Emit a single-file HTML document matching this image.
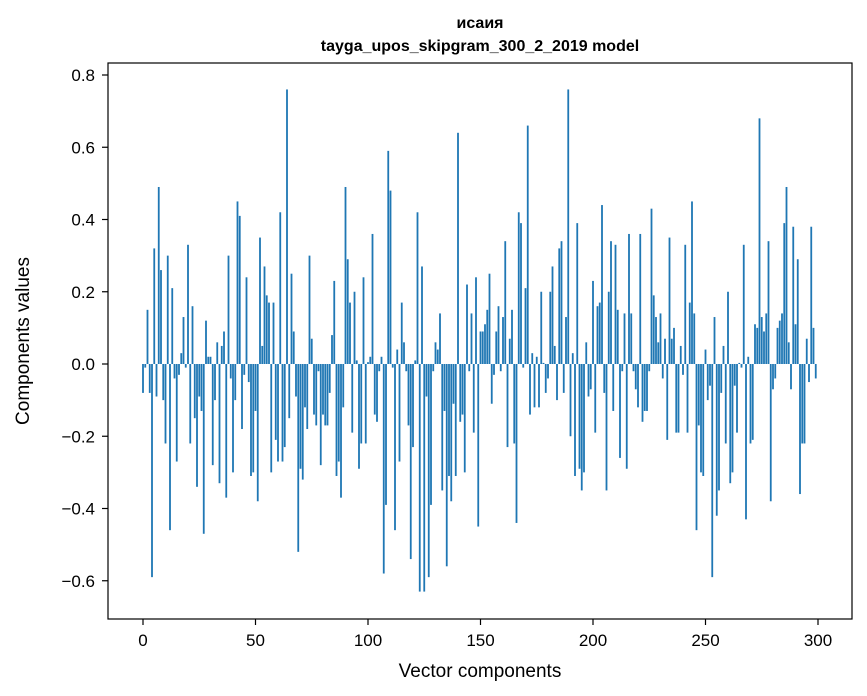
<!DOCTYPE html>
<html><head><meta charset="utf-8"><style>
html,body{margin:0;padding:0;background:#fff;}
svg{display:block;font-family:"Liberation Sans","DejaVu Sans",sans-serif;}
</style></head><body>
<svg id="chart" width="867" height="696" viewBox="0 0 867 696" xmlns="http://www.w3.org/2000/svg">
<rect x="0" y="0" width="867" height="696" fill="#fff"/>
<text x="480" y="28" text-anchor="middle" font-size="16" font-weight="bold">исаия</text>
<text x="480" y="51" text-anchor="middle" font-size="16" font-weight="bold">tayga_upos_skipgram_300_2_2019 model</text>
<g id="bars"></g>
<g id="xticks"></g>
<g id="yticks"></g>
<rect x="108" y="63" width="744" height="556" fill="none" stroke="#000" stroke-width="1.2"/>
<text x="480" y="677" text-anchor="middle" font-size="19">Vector components</text>
<text x="29" y="341" text-anchor="middle" font-size="19" transform="rotate(-90 29 341)">Components values</text>
</svg>
<script>
const values = [
-0.08,-0.01,0.15,-0.08,-0.59,0.32,-0.09,0.49,0.26,-0.10,
-0.22,0.30,-0.46,0.21,-0.04,-0.27,-0.03,0.03,0.13,-0.01,
0.33,-0.22,0.16,-0.15,-0.34,-0.09,-0.13,-0.47,0.12,0.02,
0.02,-0.28,-0.10,0.06,-0.33,0.05,0.09,-0.37,0.30,-0.04,
-0.30,-0.10,0.45,0.41,-0.18,-0.03,0.24,-0.05,-0.31,-0.30,
-0.13,-0.38,0.35,0.05,0.27,0.19,0.17,-0.30,0.17,-0.21,
-0.27,0.42,-0.27,-0.23,0.76,-0.15,0.25,0.09,-0.09,-0.52,
-0.29,-0.32,-0.12,-0.18,0.30,0.07,-0.14,-0.17,-0.02,-0.28,
-0.14,-0.17,-0.17,-0.08,0.08,0.23,-0.31,-0.27,-0.37,-0.12,
0.49,0.29,0.17,-0.19,0.20,0.01,-0.29,-0.22,0.24,-0.22,
0.005,0.02,0.36,-0.14,-0.16,-0.02,0.02,-0.58,-0.39,0.59,
0.48,-0.01,-0.46,0.04,-0.27,0.17,0.06,-0.02,-0.17,-0.54,
-0.23,0.01,0.42,-0.63,0.27,-0.63,-0.09,-0.59,-0.39,-0.02,
0.06,0.04,0.14,-0.35,-0.13,-0.56,-0.31,-0.38,-0.11,-0.31,
0.64,-0.16,-0.14,-0.30,0.22,-0.02,0.14,-0.19,0.24,-0.45,
0.09,0.09,0.11,0.15,0.25,-0.11,-0.03,0.09,0.16,-0.02,
0.13,0.34,-0.23,0.07,0.15,-0.22,-0.44,0.42,0.39,-0.01,
0.21,0.66,-0.14,0.03,-0.12,0.02,-0.12,0.20,0.003,-0.08,
-0.04,0.20,0.27,0.05,-0.10,0.32,0.34,-0.08,0.13,0.76,
-0.20,0.03,-0.31,0.39,-0.29,-0.35,-0.30,0.06,-0.09,-0.07,
0.23,-0.19,0.16,0.17,0.44,-0.08,-0.35,0.20,0.34,-0.13,
0.33,0.15,-0.26,-0.02,0.14,-0.29,0.36,0.14,-0.02,-0.07,
-0.12,0.36,-0.16,-0.13,-0.13,-0.02,0.43,0.19,0.13,0.06,
0.14,-0.04,0.07,-0.21,0.35,0.07,0.10,-0.19,-0.19,0.05,
-0.03,0.33,-0.19,0.17,0.45,0.14,-0.46,-0.17,-0.30,-0.31,
0.04,-0.10,-0.06,-0.59,0.13,-0.42,-0.35,-0.08,0.05,-0.22,
0.20,-0.33,-0.30,-0.06,-0.19,0.003,-0.01,0.33,-0.43,0.02,
-0.22,-0.21,0.11,0.10,0.68,0.13,0.09,0.14,0.34,-0.38,
-0.07,-0.04,0.10,0.12,0.14,0.39,0.49,0.06,-0.07,0.38,
0.11,0.29,-0.36,-0.22,-0.22,0.07,-0.05,0.38,0.10,-0.04
];
const xTicks = [0,50,100,150,200,250,300];
const yTicks = [-0.6,-0.4,-0.2,0.0,0.2,0.4,0.6,0.8];
const yTickLabels = ["\u22120.6","\u22120.4","\u22120.2","0.0","0.2","0.4","0.6","0.8"];

const NS = "http://www.w3.org/2000/svg";
function xs(v){ return 143 + v * 2.25; }
function ys(v){ return 364 - v * 361.25; }

const bars = document.getElementById('bars');
values.forEach(function(v, i){
  const r = document.createElementNS(NS, 'rect');
  const y0 = ys(0), y1 = ys(v);
  r.setAttribute('x', xs(i) - 0.9);
  r.setAttribute('width', 1.8);
  r.setAttribute('y', Math.min(y0, y1));
  r.setAttribute('height', Math.abs(y1 - y0));
  r.setAttribute('fill', '#1f77b4');
  
  
  bars.appendChild(r);
});

const xg = document.getElementById('xticks');
xTicks.forEach(function(t){
  const l = document.createElementNS(NS, 'line');
  l.setAttribute('x1', xs(t)); l.setAttribute('x2', xs(t));
  l.setAttribute('y1', 619); l.setAttribute('y2', 625);
  l.setAttribute('stroke', '#000'); l.setAttribute('stroke-width', 1.2);
  
  
  xg.appendChild(l);
  const tx = document.createElementNS(NS, 'text');
  tx.setAttribute('x', xs(t)); tx.setAttribute('y', 646);
  tx.setAttribute('text-anchor', 'middle'); tx.setAttribute('font-size', '17');
  tx.textContent = String(t);
  
  
  xg.appendChild(tx);
});

const yg = document.getElementById('yticks');
yTicks.forEach(function(t, k){
  const l = document.createElementNS(NS, 'line');
  l.setAttribute('x1', 102); l.setAttribute('x2', 108);
  l.setAttribute('y1', ys(t)); l.setAttribute('y2', ys(t));
  l.setAttribute('stroke', '#000'); l.setAttribute('stroke-width', 1.2);
  
  
  yg.appendChild(l);
  const tx = document.createElementNS(NS, 'text');
  tx.setAttribute('x', 95); tx.setAttribute('y', ys(t) + 6);
  tx.setAttribute('text-anchor', 'end'); tx.setAttribute('font-size', '17');
  tx.textContent = yTickLabels[k];
  
  
  yg.appendChild(tx);
});
</script>
</body></html>
